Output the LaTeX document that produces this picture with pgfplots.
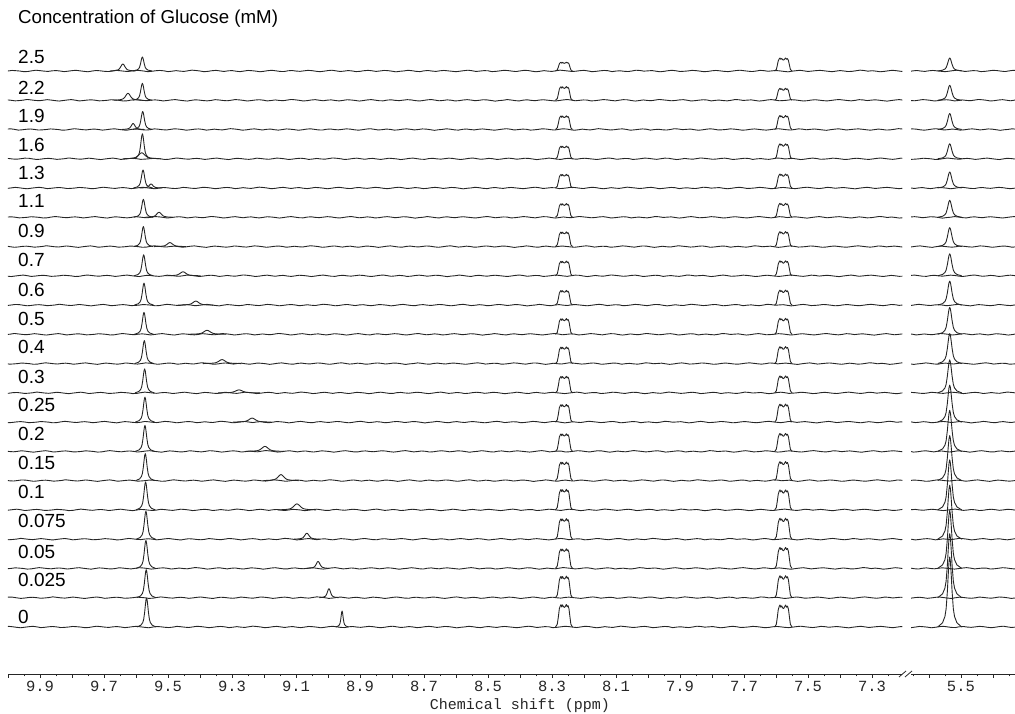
\documentclass[border=0pt]{standalone}
\usepackage{fontspec}
\setmainfont{Liberation Sans}
\newfontfamily\monofont{Liberation Mono}
\usepackage{pgfplots}
\usepackage{pgfplotstable}
\pgfplotsset{compat=1.18}

% baseline noise of the spectra (px)
\pgfplotstableread[row sep=\\]{n\\
0.3\\-0.4\\0.8\\0.1\\-0.9\\-0.3\\0.5\\1.0\\0.2\\-0.6\\
-1.1\\-0.2\\0.4\\-0.3\\0.7\\1.2\\0.3\\-0.5\\-0.8\\0.0\\
0.6\\-0.2\\-1.0\\-0.4\\0.3\\0.9\\0.5\\-0.1\\-0.7\\0.2\\
1.0\\0.4\\-0.3\\-1.2\\-0.6\\0.1\\0.7\\0.2\\-0.4\\0.5\\
0.9\\-0.1\\-0.8\\-0.3\\0.4\\1.1\\0.6\\-0.2\\-0.9\\-0.5\\
0.2\\0.8\\0.3\\-0.6\\-1.0\\-0.2\\0.5\\0.9\\0.1\\-0.4\\
-0.7\\0.3\\1.0\\0.4\\-0.5\\-1.1\\-0.3\\0.6\\0.2\\-0.2\\
0.7\\1.1\\0.0\\-0.8\\-0.4\\0.3\\-0.1\\-0.9\\0.4\\0.8\\
0.2\\-0.5\\-1.0\\0.1\\0.9\\0.5\\-0.3\\-0.7\\0.0\\0.6\\
1.2\\0.3\\-0.6\\-0.2\\0.5\\-0.4\\-1.1\\-0.3\\0.7\\0.9\\
0.1\\-0.8\\-0.2\\0.6\\1.0\\0.2\\-0.5\\-0.9\\0.3\\0.5\\
-0.1\\-0.7\\0.4\\1.1\\0.5\\-0.3\\-1.0\\-0.4\\0.2\\0.8\\
0.3\\-0.6\\-0.1\\0.7\\0.2\\-0.9\\-0.5\\0.4\\1.0\\0.1\\
-0.4\\-1.2\\-0.3\\0.5\\0.8\\0.0\\-0.6\\0.3\\0.9\\0.4\\
-0.5\\-0.9\\0.1\\0.6\\-0.2\\-0.7\\0.2\\1.1\\0.6\\-0.3\\
-1.0\\-0.4\\0.5\\0.9\\0.2\\-0.5\\-0.1\\0.7\\0.3\\-0.8\\
-0.6\\0.2\\1.0\\0.5\\-0.4\\-1.1\\-0.2\\0.4\\0.8\\-0.1\\
-0.9\\-0.3\\0.6\\0.2\\-0.7\\0.1\\0.9\\0.4\\-0.5\\-1.0\\
0.0\\0.7\\1.2\\0.3\\-0.6\\-0.2\\0.5\\-0.3\\-0.9\\0.2\\
0.8\\0.4\\-0.4\\-1.0\\-0.1\\0.6\\1.0\\0.1\\-0.7\\-0.3\\
0.4\\0.9\\-0.2\\-0.8\\-0.4\\0.3\\0.7\\-0.1\\-1.1\\-0.5\\
0.2\\1.0\\0.5\\-0.3\\-0.9\\0.0\\0.6\\0.2\\-0.6\\-0.2\\
0.5\\1.1\\0.3\\-0.7\\-1.0\\-0.1\\0.4\\0.8\\0.0\\-0.5\\
-0.8\\0.1\\0.7\\0.3\\-0.4\\-0.9\\0.2\\1.0\\0.4\\-0.3\\
-1.1\\-0.5\\0.3\\0.9\\0.1\\-0.6\\-0.2\\0.5\\1.2\\0.2\\
-0.4\\-0.8\\0.0\\0.6\\0.3\\-0.5\\-1.0\\-0.2\\0.7\\0.9\\
0.1\\-0.6\\-0.3\\0.4\\1.0\\0.5\\-0.4\\-0.9\\0.2\\0.6\\
-0.2\\-1.0\\-0.5\\0.3\\0.8\\0.1\\-0.7\\0.0\\0.9\\0.4\\
}\noisetab

% singlet peak shape (offset in half widths, relative height)
\pgfplotstableread{
d h
-5 0
-3 0.06
-2 0.15
-1.5 0.26
-1 0.5
-0.6 0.76
-0.3 0.93
0 1
0.3 0.93
0.6 0.76
1 0.5
1.5 0.26
2 0.15
3 0.06
5 0
}\pk

% multiplet shapes (offset in ppm, relative height)
\pgfplotstableread{
d h
-0.027 0
-0.022 0.12
-0.019 0.45
-0.016 0.8
-0.013 0.93
-0.0105 0.88
-0.008 0.98
-0.005 0.9
-0.002 0.85
0.001 0.88
0.004 0.96
0.0065 0.87
0.009 0.97
0.0115 0.9
0.014 0.8
0.017 0.45
0.0205 0.12
0.026 0
}\mult

\pgfplotstableread{
d h
-0.027 0
-0.022 0.12
-0.019 0.45
-0.016 0.8
-0.013 0.95
-0.010 0.9
-0.007 1.0
-0.004 0.92
-0.001 0.84
0.002 0.86
0.005 0.96
0.008 0.9
0.0105 1.0
0.013 0.93
0.016 0.78
0.019 0.42
0.022 0.12
0.027 0
}\multb

\pgfplotsset{tr/.style={black!85, line width=0.9pt, line join=round}}

% #1 base, #2 noise shift, #3 moving peak ppm, #4 its height, #5 its half width,
% #6 9.58 peak ppm, #7 its height, #8 8.26 multiplet height, #9 7.58 multiplet height
\newcommand{\traceL}[9]{%
\addplot[tr] table[x index=0, y index=0, x expr=7.15+0.0125*\coordindex-#2, y expr=#1+0.7*\thisrow{n}, restrict x to domain=7.1:10.1]{\noisetab};
\addplot[tr] table[x expr=#6+0.006*\thisrow{d}, y expr=#1+#7*\thisrow{h}]{\pk};
\addplot[tr] table[x expr=#3+#5*\thisrow{d}, y expr=#1+#4*\thisrow{h}]{\pk};
\addplot[tr] table[x expr=8.263+\thisrow{d}, y expr=#1+#8*\thisrow{h}]{\mult};
\addplot[tr] table[x expr=7.577+\thisrow{d}, y expr=#1+#9*\thisrow{h}]{\multb};
}
% #1 base, #2 noise shift, #3 5.535 peak height
\newcommand{\traceR}[3]{%
\addplot[tr] table[x index=0, y index=0, x expr=5.30+0.0125*\coordindex-1.2-3*#2, y expr=#1+0.7*\thisrow{n}, restrict x to domain=5.28:5.70]{\noisetab};
\addplot[tr] table[x expr=5.535+0.0075*\thisrow{d}, y expr=#1+#3*\thisrow{h}]{\pk};
}

\begin{document}
\begin{tikzpicture}
\path[use as bounding box] (0,0) rectangle (1015pt,714pt);

\pgfplotsset{spec/.style={
  anchor=south west, scale only axis, height=674pt,
  ymin=-674, ymax=0, x dir=reverse,
  axis x line=bottom, axis y line=none, ytick=\empty,
  axis line style={-, black!85, line width=0.8pt},
  tick align=outside, major tick length=4pt, minor tick length=2.5pt,
  tick style={black!85, line width=0.8pt},
  xticklabel style={font=\monofont\fontsize{15.5}{15.5}\selectfont, text=black!85},
  clip=true}}

\begin{axis}[spec, at={(8pt,40pt)}, width=894.4pt, xmin=7.205, xmax=10.0,
  xtick={10,9.9,9.8,9.7,9.6,9.5,9.4,9.3,9.2,9.1,9,8.9,8.8,8.7,8.6,8.5,8.4,8.3,8.2,8.1,8,7.9,7.8,7.7,7.6,7.5,7.4,7.3},
  xticklabels={,9.9,,9.7,,9.5,,9.3,,9.1,,8.9,,8.7,,8.5,,8.3,,8.1,,7.9,,7.7,,7.5,,7.3},
  minor xtick={9.95,9.85,9.75,9.65,9.55,9.45,9.35,9.25,9.15,9.05,8.95,8.85,8.75,8.65,8.55,8.45,8.35,8.25,8.15,8.05,7.95,7.85,7.75,7.65,7.55,7.45,7.35,7.25}]
\traceL{-71.0}{0.00}{9.641}{7}{0.008}{9.580}{14}{9}{13}
\traceL{-100.3}{0.31}{9.625}{7}{0.009}{9.580}{17}{14}{12}
\traceL{-129.5}{0.12}{9.609}{6}{0.007}{9.579}{18}{14}{14}
\traceL{-158.8}{0.44}{9.582}{6}{0.012}{9.580}{25}{13}{15}
\traceL{-188.0}{0.21}{9.553}{4}{0.007}{9.578}{18}{14}{14}
\traceL{-217.3}{0.06}{9.528}{5}{0.009}{9.577}{18}{14}{14}
\traceL{-246.6}{0.37}{9.494}{4}{0.010}{9.577}{20}{15}{15}
\traceL{-275.8}{0.16}{9.453}{4}{0.011}{9.576}{21}{15}{15}
\traceL{-305.1}{0.41}{9.413}{4}{0.011}{9.575}{22}{15}{15}
\traceL{-334.3}{0.27}{9.378}{4}{0.012}{9.575}{22}{16}{16}
\traceL{-363.6}{0.03}{9.331}{4}{0.012}{9.574}{23}{17}{17}
\traceL{-392.9}{0.34}{9.278}{3}{0.013}{9.573}{24}{17}{17}
\traceL{-422.1}{0.09}{9.237}{4}{0.012}{9.572}{25}{18}{18}
\traceL{-451.4}{0.23}{9.197}{5}{0.012}{9.572}{26}{18}{18}
\traceL{-480.6}{0.43}{9.147}{6}{0.011}{9.571}{27}{19}{19}
\traceL{-509.9}{0.14}{9.097}{6}{0.012}{9.570}{28}{21}{20}
\traceL{-539.2}{0.29}{9.066}{6}{0.008}{9.569}{28}{21}{21}
\traceL{-568.4}{0.01}{9.031}{7}{0.007}{9.569}{28}{20}{21}
\traceL{-597.7}{0.39}{8.997}{9}{0.006}{9.568}{28}{22}{22}
\traceL{-627.0}{0.19}{8.956}{16}{0.004}{9.567}{29}{23}{22}
\end{axis}

\begin{axis}[spec, at={(911pt,40pt)}, width=104pt, xmin=5.331, xmax=5.656,
  xtick={5.6,5.5,5.4}, xticklabels={,5.5,},
  minor xtick={5.65,5.55,5.45,5.35}]
\traceR{-71.0}{0.00}{13}
\traceR{-100.3}{0.31}{15}
\traceR{-129.5}{0.12}{16}
\traceR{-158.8}{0.44}{15}
\traceR{-188.0}{0.21}{16}
\traceR{-217.3}{0.06}{17}
\traceR{-246.6}{0.37}{19}
\traceR{-275.8}{0.16}{22}
\traceR{-305.1}{0.41}{24}
\traceR{-334.3}{0.27}{27}
\traceR{-363.6}{0.03}{30}
\traceR{-392.9}{0.34}{33}
\traceR{-422.1}{0.09}{37}
\traceR{-451.4}{0.23}{41}
\traceR{-480.6}{0.43}{45}
\traceR{-509.9}{0.14}{50}
\traceR{-539.2}{0.29}{54}
\traceR{-568.4}{0.01}{58}
\traceR{-597.7}{0.39}{64}
\traceR{-627.0}{0.19}{70}
\end{axis}

% axis break marks
\draw[black!85, line width=0.8pt] (899pt,37pt) -- (906pt,43pt);
\draw[black!85, line width=0.8pt] (905pt,37pt) -- (912pt,43pt);

% title, concentration labels and axis title
\node[inner sep=0pt, anchor=base west, font=\fontsize{18.7}{18.7}\selectfont] at (18pt,690pt) {Concentration of Glucose (mM)};
\begin{scope}[every node/.style={inner sep=0pt, anchor=base west, font=\fontsize{19}{19}\selectfont}]
\node at (18pt,650.5pt) {2.5};
\node at (18pt,619.5pt) {2.2};
\node at (18pt,591.5pt) {1.9};
\node at (18pt,562.5pt) {1.6};
\node at (18pt,534.5pt) {1.3};
\node at (18pt,506.5pt) {1.1};
\node at (18pt,476.5pt) {0.9};
\node at (18pt,447.5pt) {0.7};
\node at (18pt,417.5pt) {0.6};
\node at (18pt,388.5pt) {0.5};
\node at (18pt,360.5pt) {0.4};
\node at (18pt,330.5pt) {0.3};
\node at (18pt,302.5pt) {0.25};
\node at (18pt,273.5pt) {0.2};
\node at (18pt,244.5pt) {0.15};
\node at (18pt,215.5pt) {0.1};
\node at (18pt,186.5pt) {0.075};
\node at (18pt,155.5pt) {0.05};
\node at (18pt,127.5pt) {0.025};
\node at (18pt,90.5pt) {0};
\end{scope}
\node[inner sep=0pt, anchor=base, font=\monofont\fontsize{15}{15}\selectfont, text=black!85] at (520pt,4.5pt) {Chemical shift (ppm)};
\end{tikzpicture}
\end{document}
